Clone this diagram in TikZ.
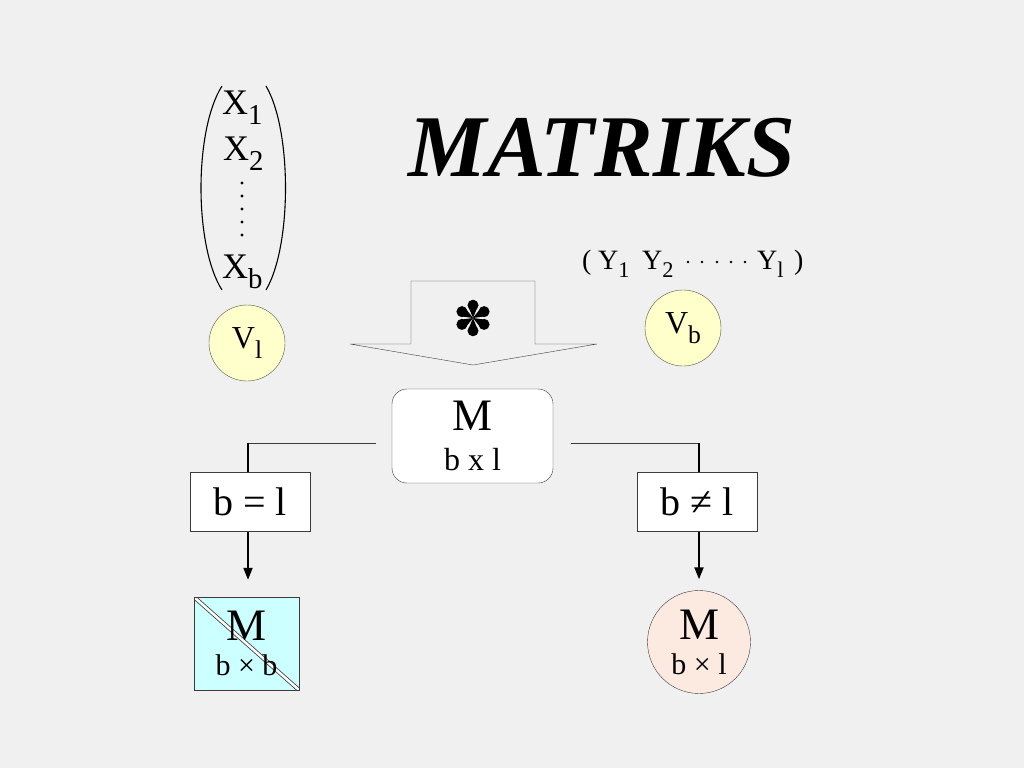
\documentclass[tikz,border=0pt]{standalone}
\usepackage{fontspec}
\usepackage{graphicx}
\setmainfont{Liberation Serif}
\usetikzlibrary{positioning,arrows.meta}

\definecolor{paper}{HTML}{F0F0F0}
\definecolor{edge}{HTML}{3C3C3C}
\definecolor{rim}{HTML}{5A5A40}
\definecolor{vecfill}{HTML}{FFFFCC}
\definecolor{sqfill}{HTML}{CCFFFF}
\definecolor{rectfill}{HTML}{FCEAE1}

\newcommand\dn[1]{\raisebox{-0.3em}{\scalebox{0.8}{#1}}}
\newcommand\fs[1]{\fontsize{#1}{#1}\selectfont}

\begin{document}
\begin{tikzpicture}[x=1pt,y=-1pt,
  every node/.style={inner sep=0pt},
  vec/.style={circle,draw=rim,fill=vecfill,minimum size=76pt,font=\fs{32}},
  entry/.style={anchor=base west,font=\fs{36}},
  yentry/.style={anchor=base west,font=\fs{28}},
  cond/.style={draw=edge,fill=white,minimum width=120pt,minimum height=59pt,font=\fs{40}},
  link/.style={draw=edge,line width=1pt},
  drop/.style={draw=black,line width=2pt},
  cut/.style={draw=edge,double=white,double distance=2.5pt,line width=0.8pt}]

\fill[paper] (0,0) rectangle (1024,768);

\node (title) at (602,148) {\fs{88}\bfseries\itshape MATRIKS};

% column vector
\draw[line width=1.1pt] (222,86) .. controls (194,130) and (194,246) .. (222,290);
\draw[line width=1.1pt] (266,86) .. controls (292,130) and (292,246) .. (266,290);
\node[entry] (x1) at (222,114) {X\dn{1}};
\node[entry] (x2) at (223,160) {X\dn{2}};
\node[entry] (xb) at (222,278) {X\dn{b}};
\foreach \y in {183,196,209,222,235}
  \fill (242,\y) circle (1.6);
\node[vec] (vl) at (247,343) {V\dn{l}};

% row vector
\node[yentry] (lpar) at (582,269) {(};
\node[yentry] (y1) at (598,269) {Y\dn{1}};
\node[yentry] (y2) at (642,269) {Y\dn{2}};
\node[yentry] (yl) at (757,269) {Y\dn{l}};
\node[yentry] (rpar) at (794,269) {)};
\foreach \x in {688,702,717,731,745}
  \fill (\x,262) circle (1.4);
\node[vec] (vb) at (683,328) {V\dn{b}};

% product arrow
\coordinate (tip) at (473,365);
\draw[draw=edge,fill=paper] (tip) ++(-62,-84) -- ++(124,0) -- ++(0,63) -- ++(62,0)
  -- (tip) -- ++(-123,-21) -- ++(61,0) -- cycle;
\coordinate (star) at (473,318);
\foreach \a in {30,90,...,330} {
  \fill ([shift={(\a:12.8)}]star) circle (5.5);
  \fill (star) -- ([shift={(\a+22:14)}]star) -- ([shift={(\a-22:14)}]star) -- cycle;
}

\node[draw=edge,fill=white,rounded corners=15pt,minimum width=161pt,minimum height=94pt,
  align=center,font=\fontsize{45}{40}\selectfont] (mat) at (472.5,436) {M\\{\fs{32}b x l}};

\node[cond] (eq) at (250,502) {b = l};
\node[cond] (neq) at (697,502) {b ≠ l};

\node[draw=edge,fill=sqfill,minimum width=105pt,minimum height=93pt,align=center,
  font=\fontsize{45}{35}\selectfont,
  path picture={\draw[cut] (path picture bounding box.north west) -- (path picture bounding box.south east);}]
  (sq) at (246.5,643.5) {M\\{\fs{30}b × b}};
\node[circle,draw=edge,fill=rectfill,minimum size=103pt,align=center,
  font=\fontsize{45}{35}\selectfont] (rect) at (699,642) {M\\{\fs{30}b × l}};

\coordinate (lknee) at (248,443);
\coordinate (rknee) at (699,443);
\draw[link,shorten <=16pt] (mat.west |- lknee) -- (lknee);
\draw[drop] (lknee) -- (lknee |- eq.north);
\draw[drop,-{Triangle[length=12pt,width=9pt]},shorten >=17pt] (lknee |- eq.south) -- (lknee |- sq.north);
\draw[link,shorten <=18pt] (mat.east |- rknee) -- (rknee);
\draw[drop] (rknee) -- (rknee |- neq.north);
\draw[drop,-{Triangle[length=12pt,width=9pt]},shorten >=11pt] (rknee |- neq.south) -- (rknee |- rect.north);

\end{tikzpicture}
\end{document}
